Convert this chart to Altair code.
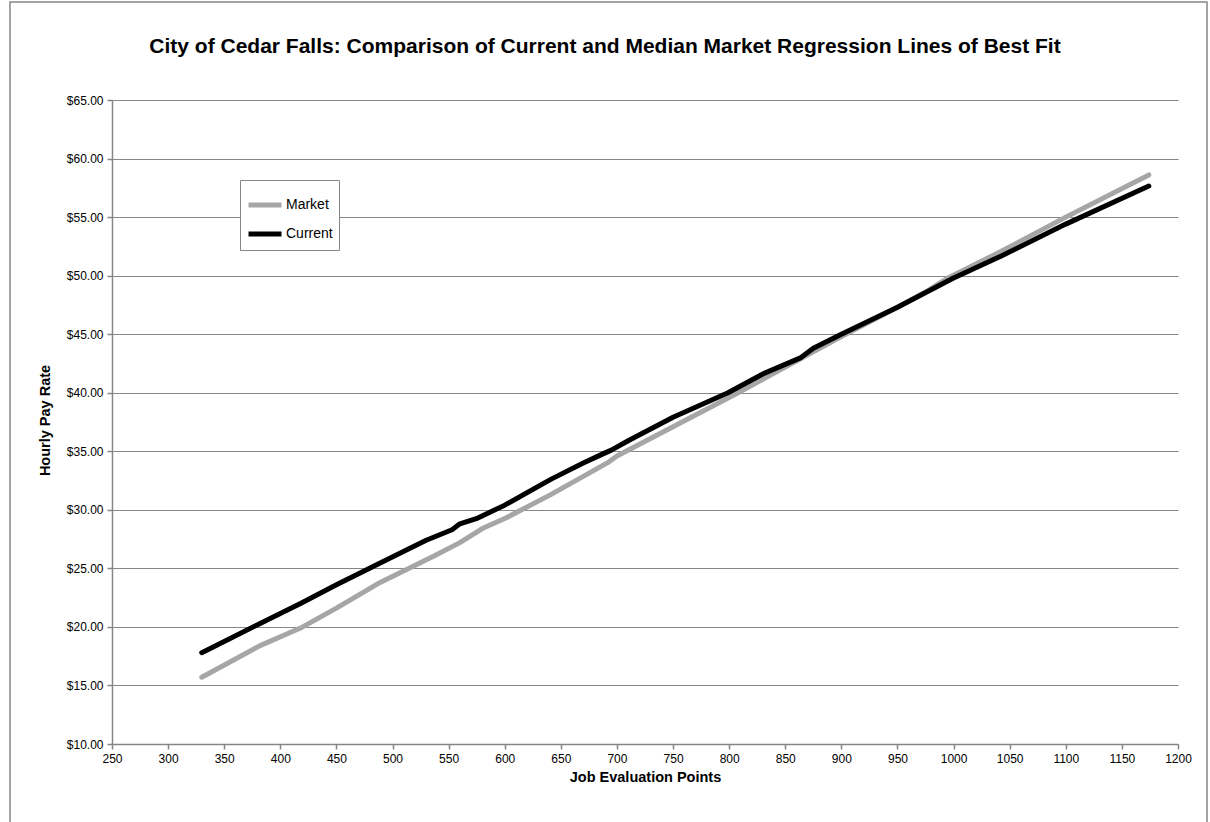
import altair as alt
import pandas as pd

current_x = [330, 382, 418, 450, 489, 530, 553, 560, 576, 600, 641, 670, 688, 695, 710, 750, 799, 830, 864, 875, 900, 950, 1000, 1043, 1100, 1174]
current_y = [17.8, 20.3, 22.0, 23.6, 25.45, 27.4, 28.3, 28.8, 29.3, 30.4, 32.6, 34.0, 34.8, 35.1, 35.9, 37.9, 40.0, 41.6, 43.0, 43.8, 45.0, 47.3, 49.8, 51.7, 54.4, 57.65]

market_x = [330, 382, 418, 450, 489, 537, 560, 580, 601, 641, 693, 700, 750, 808, 850, 900, 950, 975, 995, 1043, 1100, 1174]
market_y = [15.7, 18.4, 19.9, 21.6, 23.8, 26.05, 27.2, 28.4, 29.3, 31.3, 34.1, 34.6, 37.1, 40.0, 42.2, 44.8, 47.3, 48.6, 49.8, 52.1, 55.0, 58.6]

series_names = ["Market", "Current"]
series_colors = ["#A6A6A6", "#000000"]
x_ticks = list(range(250, 1201, 50))
y_ticks = list(range(10, 66, 5))
title_text = "City of Cedar Falls: Comparison of Current and Median Market Regression Lines of Best Fit"

rows = []
for i, (x, y) in enumerate(zip(market_x, market_y)):
    rows.append({"series": "Market", "order": i, "points": x, "rate": y})
for i, (x, y) in enumerate(zip(current_x, current_y)):
    rows.append({"series": "Current", "order": i, "points": x, "rate": y})
df = pd.DataFrame(rows)

FONT = "Liberation Sans"
W, H = 1066, 644

lines = alt.Chart(df).mark_line(strokeWidth=5, strokeCap="round", strokeJoin="round").encode(
    x=alt.X("points:Q",
            scale=alt.Scale(domain=[250, 1200], nice=False, zero=False),
            axis=alt.Axis(values=x_ticks, format="d", title="Job Evaluation Points", grid=False,
                          labelFontSize=12, labelColor="#000000", labelPadding=4,
                          labelFlush=False, labelOverlap=False,
                          tickSize=5, tickColor="#868686", domainColor="#868686",
                          domainWidth=1.5, tickWidth=1.5,
                          titleFontSize=14.5, titleFontWeight="bold", titleColor="#000000",
                          titleX=W / 2, titleY=33, titleBaseline="middle")),
    y=alt.Y("rate:Q",
            scale=alt.Scale(domain=[10, 65], nice=False, zero=False),
            axis=alt.Axis(values=y_ticks, format="$.2f", title="Hourly Pay Rate",
                          grid=True, gridColor="#868686", gridWidth=1.2,
                          labelFontSize=12, labelColor="#000000", labelPadding=4,
                          labelFlush=False, labelOverlap=False,
                          tickSize=5, tickColor="#868686", domainColor="#868686",
                          domainWidth=1.5, tickWidth=1.5,
                          titleFontSize=14.5, titleFontWeight="bold", titleColor="#000000",
                          titleX=-67, titleY=H / 2 - 2, titleAngle=-90,
                          titleAlign="center", titleBaseline="middle")),
    color=alt.Color("series:N",
                    scale=alt.Scale(domain=series_names, range=series_colors),
                    legend=alt.Legend(title=None, orient="none", legendX=128, legendY=80,
                                      symbolType="stroke", symbolSize=1089,
                                      symbolStrokeWidth=5, labelFontSize=14,
                                      labelColor="#000000", labelOffset=2,
                                      labelExpr="datum.label + '\u00a0\u00a0\u00a0\u00a0'",
                                      strokeColor="#868686", fillColor="#FFFFFF",
                                      padding=6, rowPadding=0)),
    detail="series:N",
    order="order:Q",
)

border = alt.Chart(pd.DataFrame({"a": [0]})).mark_rect(
    fill=None, stroke="#868686", strokeWidth=1.5
).encode(
    x=alt.value(-102), x2=alt.value(1095), y=alt.value(-98), y2=alt.value(740)
)

title = alt.Chart(pd.DataFrame({"t": [title_text]})).mark_text(
    fontSize=21, fontWeight="bold", font=FONT, color="#000000",
    align="center", baseline="middle"
).encode(
    text="t:N", x=alt.value(493), y=alt.value(-53)
)

chart = alt.layer(border, title, lines).properties(
    width=W, height=H,
    padding={"left": 112, "top": 100, "right": 32, "bottom": 78},
    autosize=alt.AutoSizeParams(type="none"),
).configure(font=FONT).configure_view(stroke=None)

chart.save("out.html", embed_options={"renderer": "svg", "actions": False})
